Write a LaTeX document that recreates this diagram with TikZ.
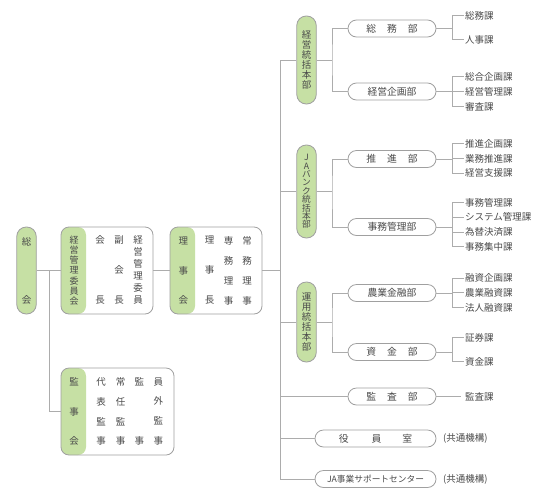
\documentclass[tikz,border=0pt]{standalone}
\usepackage{fontspec}
\setmainfont{Noto Sans CJK JP}
\usetikzlibrary{shapes.misc}
\definecolor{gfill}{RGB}{198,224,164}
\definecolor{bline}{RGB}{160,160,160}
\definecolor{cline}{RGB}{172,172,172}
\definecolor{txt}{RGB}{74,74,74}
\newcommand\myvf[2]{\fontsize{#1}{#2}\selectfont\lineskiplimit=-50pt\lineskip=0pt}
\begin{document}
\begin{tikzpicture}[x=1pt,y=-1pt,
  every node/.style={text=txt},
  conn/.style={draw=cline, line width=0.7pt},
  vpill/.style={draw=bline, line width=0.8pt, fill=gfill, rounded corners=9.5pt, minimum width=19.5pt, inner sep=0pt},
  bigbox/.style={draw=bline, line width=0.8pt, fill=white, rounded corners=8pt, inner sep=0pt, minimum height=87pt,
    path picture={\fill[gfill] (path picture bounding box.north west) rectangle ([xshift=25pt]path picture bounding box.south west);}},
  dept/.style={draw=bline, line width=0.8pt, fill=white, rounded rectangle, minimum width=88pt, minimum height=17pt, inner sep=0pt, font=\fontsize{9.8}{12}\selectfont},
  item/.style={anchor=west, inner sep=1.5pt, font=\fontsize{9.5}{12}\selectfont},
  vtext/.style={align=center, inner sep=0pt},
]
\fill[white] (0,0) rectangle (540,498);
\useasboundingbox (0,0) rectangle (540,498);

% left part
\node[vpill, minimum height=87pt] (soukai) at (26.5,270.5) {};
\node[vtext, font=\myvf{9.5}{58.5}] (soukaiT) at (26.5,270.8) {総\\会};

\node[bigbox, minimum width=92pt] (keiei) at (107,270.5) {};
\node[vtext, font=\myvf{9}{10.1}] (keieiG) at (74,270.5) {経\\営\\管\\理\\委\\員\\会};
\node[vtext, font=\myvf{9.5}{30}] (k1) at (100,270.3) {会\\~\\長};
\node[vtext, font=\myvf{9.5}{30}] (k2) at (119,270.3) {副\\会\\長};
\node[vtext, font=\myvf{9.5}{12}] (k3) at (138,270.3) {経\\営\\管\\理\\委\\員};

\node[bigbox, minimum width=92pt] (riji) at (216,270.5) {};
\node[vtext, font=\myvf{9.5}{29.5}] (rijiG) at (183.3,270.8) {理\\事\\会};
\node[vtext, font=\myvf{9.5}{30}] (r1) at (209.7,270.5) {理\\事\\長};
\node[vtext, font=\myvf{9.5}{20}] (r2) at (228.7,270.5) {専\\務\\理\\事};
\node[vtext, font=\myvf{9.5}{20}] (r3) at (247,270.5) {常\\務\\理\\事};

\node[bigbox, minimum width=113pt] (kanji) at (117.5,411.5) {};
\node[vtext, font=\myvf{9.5}{29.8}] (kanjiG) at (74,411.5) {監\\事\\会};
\node[vtext, font=\myvf{9.5}{19.9}] (c1) at (101,411.5) {代\\表\\監\\事};
\node[vtext, font=\myvf{9.5}{19.9}] (c2) at (120.7,411.5) {常\\任\\監\\事};
\node[vtext, font=\myvf{9.5}{19.9}] (c3) at (139.3,411.5) {監\\~\\~\\事};
\node[vtext, font=\myvf{9.5}{19.9}] (c4) at (158.3,411.5) {員\\外\\監\\事};

\coordinate (j1) at (49,270.5);
\draw[conn] (soukai.east) -- (keiei.west);
\draw[conn] (j1) |- (kanji.west);
\draw[conn] (keiei.east) -- (riji.west);

% headquarters
\node[vpill, minimum height=88pt] (hq1) at (306.5,60) {};
\node[vtext, font=\myvf{9.5}{10}] (hq1T) at (306.5,60) {経\\営\\統\\括\\本\\部};
\node[vpill, minimum height=93pt] (hq2) at (306.5,191.5) {};
\node[vtext, font=\myvf{8.7}{8.4}] (hq2T) at (306.5,191.5) {J\\A\\バ\\ン\\ク\\統\\括\\本\\部};
\node[vpill, minimum height=80pt] (hq3) at (306.5,322) {};
\node[vtext, font=\myvf{9.5}{10}] (hq3T) at (306.5,322) {運\\用\\統\\括\\本\\部};

% departments
\node[dept] (soumu) at (392,28.5) {総\hspace{11pt}務\hspace{11pt}部};
\node[dept] (kikaku) at (392,91.5) {経営企画部};
\node[dept] (suishin) at (392,159) {推\hspace{11pt}進\hspace{11pt}部};
\node[dept] (jimu) at (392,227) {事務管理部};
\node[dept] (nougyou) at (392,293) {農業金融部};
\node[dept] (shikin) at (392,352) {資\hspace{11pt}金\hspace{11pt}部};
\node[dept] (kansa) at (392,396.5) {監\hspace{11pt}査\hspace{11pt}部};
\node[dept, minimum width=121pt] (yakuin) at (375.5,438.5) {役\hspace{23pt}員\hspace{21pt}室};
\node[dept, minimum width=121pt, font=\fontsize{8.7}{12}\selectfont] (jac) at (375.5,479) {JA事業サポートセンター};

% bus
\coordinate (busb) at (280,479);
\draw[conn] (hq1.west) -| (busb) -- (jac.west);
\draw[conn] (riji.east) -- (riji.east -| busb);
\draw[conn] (hq2.west) -- (hq2.west -| busb);
\draw[conn] (hq3.west) -- (hq3.west -| busb);
\draw[conn] (kansa.west) -- (kansa.west -| busb);
\draw[conn] (yakuin.west) -- (yakuin.west -| busb);

% branches
\coordinate (b1) at (332,60);
\draw[conn] (hq1.east) -- (b1);
\draw[conn] (soumu.west) -| (b1) |- (kikaku.west);
\coordinate (b2) at (332,191.5);
\draw[conn] (hq2.east) -- (b2);
\draw[conn] (suishin.west) -| (b2) |- (jimu.west);
\coordinate (b3) at (332,322);
\draw[conn] (hq3.east) -- (b3);
\draw[conn] (nougyou.west) -| (b3) |- (shikin.west);

% sections
\coordinate (s1) at (452,28.5);
\node[item] (s11) at (463.5,15.5) {総務課};
\node[item] (s12) at (463.5,39.5) {人事課};
\draw[conn] (soumu.east) -- (s1);
\foreach \n in {s11,s12} \draw[conn] (\n.west) -| (s1);

\coordinate (s2) at (452,91.5);
\node[item] (s21) at (463.5,76.5) {総合企画課};
\node[item] (s22) at (463.5,91.5) {経営管理課};
\node[item] (s23) at (463.5,106.5) {審査課};
\draw[conn] (kikaku.east) -- (s2);
\foreach \n in {s21,s22,s23} \draw[conn] (\n.west) -| (s2);

\coordinate (s3) at (452,159);
\node[item] (s31) at (463.5,143.5) {推進企画課};
\node[item] (s32) at (463.5,158.5) {業務推進課};
\node[item] (s33) at (463.5,173) {経営支援課};
\draw[conn] (suishin.east) -- (s3);
\foreach \n in {s31,s32,s33} \draw[conn] (\n.west) -| (s3);

\coordinate (s4) at (452,227);
\node[item] (s41) at (463.5,202.5) {事務管理課};
\node[item] (s42) at (463.5,217) {システム管理課};
\node[item] (s43) at (463.5,232) {為替決済課};
\node[item] (s44) at (463.5,246.5) {事務集中課};
\draw[conn] (jimu.east) -- (s4);
\foreach \n in {s41,s42,s43,s44} \draw[conn] (\n.west) -| (s4);

\coordinate (s5) at (452,293);
\node[item] (s51) at (463.5,278) {融資企画課};
\node[item] (s52) at (463.5,292.5) {農業融資課};
\node[item] (s53) at (463.5,307.5) {法人融資課};
\draw[conn] (nougyou.east) -- (s5);
\foreach \n in {s51,s52,s53} \draw[conn] (\n.west) -| (s5);

\coordinate (s6) at (452,352);
\node[item] (s61) at (463.5,337.5) {証券課};
\node[item] (s62) at (463.5,361.5) {資金課};
\draw[conn] (shikin.east) -- (s6);
\foreach \n in {s61,s62} \draw[conn] (\n.west) -| (s6);

\node[item, inner sep=4pt] (kc) at (461,396.5) {監査課};
\draw[conn] (kansa.east) -- (kc.west);

\node[item] (kk1) at (441.5,438.5) {(共通機構)};
\node[item] (kk2) at (441.5,479) {(共通機構)};
\end{tikzpicture}
\end{document}
